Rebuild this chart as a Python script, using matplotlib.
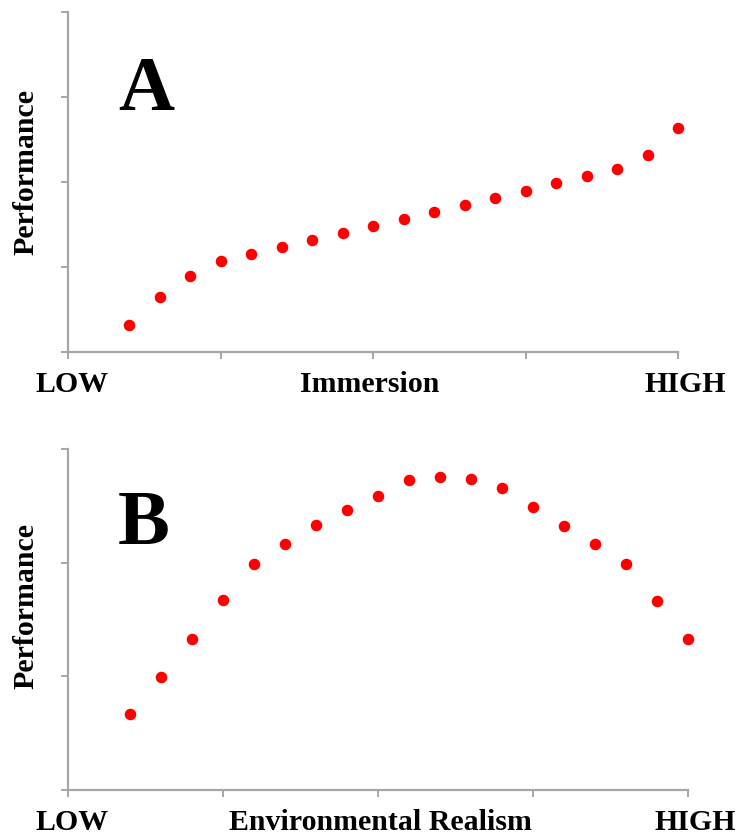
import numpy as np
import matplotlib
matplotlib.use("Agg")
import matplotlib.pyplot as plt

# immersion level (0..20 scale, ticks every 5) and performance readings
imm_x = [2, 3, 4, 5, 6, 7, 8, 9, 10, 11, 12, 13, 14, 15, 16, 17, 18, 19, 20]
imm_y = [0.32, 0.65, 0.89, 1.07, 1.15, 1.24, 1.32, 1.40, 1.48, 1.56,
         1.65, 1.73, 1.81, 1.89, 1.99, 2.07, 2.15, 2.32, 2.64]

real_x = [2, 3, 4, 5, 6, 7, 8, 9, 10, 11, 12, 13, 14, 15, 16, 17, 18, 19, 20]
real_y = [0.67, 0.99, 1.33, 1.67, 1.99, 2.16, 2.33, 2.46, 2.59, 2.73,
          2.75, 2.74, 2.66, 2.49, 2.32, 2.16, 1.99, 1.66, 1.33]

plt.rcParams['font.family'] = ['Liberation Serif', 'DejaVu Serif']
W, H = 737, 834
fig = plt.figure(figsize=(W / 100, H / 100), dpi=100)

grey = '#a6a6a6'


def style(ax, ymax, yticks):
    ax.set_xlim(0, 20)
    ax.set_ylim(0, ymax)
    ax.set_xticks([0, 5, 10, 15, 20])
    ax.set_yticks(yticks)
    ax.set_xticklabels([])
    ax.set_yticklabels([])
    for s in ['top', 'right']:
        ax.spines[s].set_visible(False)
    for s in ['left', 'bottom']:
        ax.spines[s].set_color(grey)
        ax.spines[s].set_linewidth(1.6)
    ax.tick_params(color=grey, width=1.4, length=5, direction='out')
    ax.set_facecolor('none')


axA = fig.add_axes([68 / W, 1 - 352 / H, (678 - 68) / W, (352 - 12) / H])
style(axA, 4, [0, 1, 2, 3, 4])
axA.plot(imm_x, imm_y, 'o', color='#ff0000', markersize=7.3, clip_on=False)

axB = fig.add_axes([68 / W, 1 - 790 / H, (688 - 68) / W, (790 - 449) / H])
style(axB, 3, [0, 1, 2, 3])
axB.plot(real_x, real_y, 'o', color='#ff0000', markersize=7.3, clip_on=False)

fs = 21.5
# panel A labels
fig.text(72 / W, 1 - 385 / H, 'LOW', ha='center', va='center', fontsize=fs, fontweight='bold')
fig.text(370 / W, 1 - 385 / H, 'Immersion', ha='center', va='center', fontsize=fs, fontweight='bold')
fig.text(685 / W, 1 - 385 / H, 'HIGH', ha='center', va='center', fontsize=fs, fontweight='bold')
fig.text(26 / W, 1 - 172 / H, 'Performance', ha='center', va='center', rotation=90,
         fontsize=fs, fontweight='bold')
fig.text(146 / W, 1 - 92 / H, 'A', ha='center', va='center', fontsize=56, fontweight='bold')

# panel B labels
fig.text(72 / W, 1 - 822 / H, 'LOW', ha='center', va='center', fontsize=fs, fontweight='bold')
fig.text(380 / W, 1 - 822 / H, 'Environmental Realism', ha='center', va='center', fontsize=fs,
         fontweight='bold')
fig.text(695 / W, 1 - 822 / H, 'HIGH', ha='center', va='center', fontsize=fs, fontweight='bold')
fig.text(26 / W, 1 - 606 / H, 'Performance', ha='center', va='center', rotation=90,
         fontsize=fs, fontweight='bold')
fig.text(144 / W, 1 - 526 / H, 'B', ha='center', va='center', fontsize=56, fontweight='bold')

fig.savefig('out.png', dpi=100)
